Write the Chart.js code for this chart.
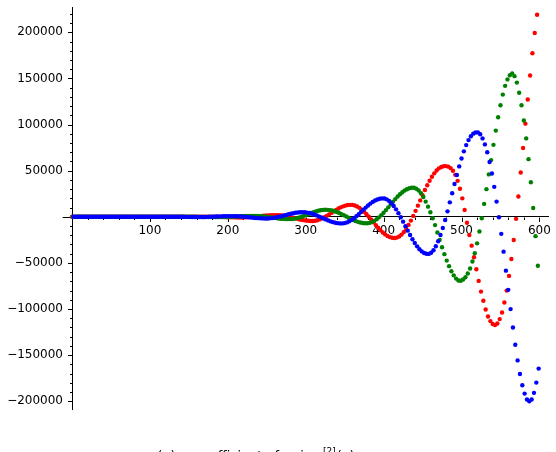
<!DOCTYPE html>
<html>
<head>
<meta charset="utf-8">
<script src="https://cdn.jsdelivr.net/npm/chart.js@4.4.0/dist/chart.umd.min.js"></script>
<style>
  html, body { margin: 0; padding: 0; background: #fff; }
  #wrap { width: 556px; height: 452px; }
</style>
</head>
<body>
<div id="wrap"><canvas id="chart" width="556" height="452"></canvas></div>
<script>
// one sequence split in three by n mod 3: red n=3k, green n=3k+1, blue n=3k+2
const xStep = 3;
const redFirstX = 0;
const greenFirstX = 1;
const blueFirstX = 2;

const redValues = [
  0, 0, 0, 0, 0, 0, 0, 0, 0, 0, 0, 0, 0, 0, 0, 0, 0, 0, 0, 0, 0, 0, 0, 0, 0,
  0, 0, 0, 0, 0, 0, 0, 0, 0, 0, 0, 0, 0, 0, 0, 0, 0, 0, 0, 0, 0, 0, 0, 0, 0,
  0, 50, 100, 150, 200, 230, 250,
  250, 230, 200, 140, 80, 0, -100, -190, -290, -380, -470, -550, -610, -660, -690, -700,
  -670, -600, -470, -300, -100, 130, 380, 640, 890, 1130, 1340, 1520, 1660, 1750, 1800,
  1770, 1620, 1340, 950, 470, -100, -710, -1350, -1990, -2600, -3170, -3650, -4040, -4320, -4470,
  -4480, -4230, -3670, -2830, -1740, -440, 1030, 2610, 4250, 5890, 7470, 8940, 10240, 11330, 12170, 12730, 12980,
  12890, 12300, 11220, 9690, 7730, 5420, 2810, -10, -2980, -6010, -9010, -11890, -14580, -16990, -19080, -20770, -22010, -22750,
  -23000, -22570, -21330, -19270, -16430, -12930, -8760, -4100, 1000, 6450, 12090, 17810, 23490, 29010, 34220, 39080, 43400, 47140, 50210, 52540, 54060, 54760,
  55000, 54400, 52800, 50000, 45500, 39000, 30500, 20000, 7500,
  -6500, -19800, -31300, -43900, -56900, -69500, -81100, -91100, -100500, -108100, -113100, -116300, -117400, -115700, -110900, -103800,
  -93000, -80000, -64100, -45700, -25200, -2200, 22000, 48000, 74600, 101000, 127200, 153200, 177300, 199300, 219100
];

const greenValues = [
  0, 0, 0, 0, 0, 0, 0, 0, 0, 0, 0, 0, 0, 0, 0, 0, 0, 0, 0, 0, 0, 0, 0, 0, 0, 0, 0,
  0, 0, 0, 0, 0, 0, 0, 0, 0, 0, 0, 0, 0, 0, 0, 0, 0, 0, 0, 0, 0, 0, 0, 0, 0, 0, 0,
  -100, -150, -200, -250, -290, -320, -340, -350, -350,
  -340, -310, -250, -160, -50, 70, 210, 350, 490, 620, 740, 840, 920, 970, 1000,
  980, 900, 740, 530, 260, -50, -400, -750, -1100, -1450, -1760, -2030, -2250, -2400, -2480,
  -2490, -2320, -1960, -1410, -710, 130, 1060, 2050, 3060, 4050, 4970, 5810, 6510, 7060, 7420, 7590,
  7550, 7270, 6760, 6050, 5140, 4080, 2890, 1610, 300, -1010, -2290, -3480, -4540, -5450, -6160, -6670, -6950,
  -6970, -6580, -5730, -4410, -2700, -610, 1780, 4450, 7300, 10270, 13300, 16310, 19210, 21950, 24440, 26640, 28490, 29940, 30940, 31500,
  31500, 30500, 28500, 25500, 21500, 16500, 11000, 5000, -1500, -9000, -17000, -25000, -33000, -40500, -47500, -53500, -59000, -63500, -67000, -69000,
  -69300, -68000, -65500, -61500, -56000, -48500, -39500, -28800, -16000, -1500, 14000, 30000, 46000, 61500, 78000, 93500, 108000,
  121000, 132500, 142000, 149000, 153500, 155500, 152500, 145500, 134500, 121000, 104500, 85000, 62500, 37500, 9500, -21000, -53000
];

const blueValues = [
  0, 0, 0, 0, 0, 0, 0, 0, 0, 0, 0, 0, 0, 0, 0, 0, 0, 0, 0, 0, 0, 0, 0, 0,
  0, 0, 0, 0, 0, 0, 0, 0, 0, 0, 0, 0, 0, 0, 0, 0, 0, 0, 0, 0, 0, 0, 0, 0,
  -50, -100, -160, -210, -240,
  -250, -230, -200, -140, -80, 0, 100, 190, 290, 380, 470, 550, 610, 660, 690,
  700, 670, 590, 450, 270, 50, -200, -460, -730, -990, -1230, -1430, -1600, -1720, -1790,
  -1790, -1670, -1420, -1040, -550, 40, 680, 1370, 2060, 2740, 3360, 3920, 4380, 4720, 4930,
  5000, 4890, 4570, 4050, 3350, 2490, 1500, 420, -720, -1860, -2990, -4040, -4990, -5800, -6440, -6900, -7150,
  -7170, -6820, -6040, -4870, -3370, -1530, 550, 2820, 5190, 7610, 9980, 12260, 14330, 16170, 17670, 18840, 19620, 19970,
  19820, 18920, 17230, 14810, 11740, 8090, 3990, -500, -5270, -10150, -15030, -19800, -24290, -28390, -32040, -35110, -37530, -39220, -40120,
  -40210, -38980, -36210, -32000, -26530, -19800, -12100, -3460, 5900, 15650, 25600, 35550, 45300, 54660, 63300, 71000, 77730, 83200, 87410, 90180, 91410,
  91500, 89500, 85000, 78500, 70000, 59500, 47000, 32500, 16500, -500, -18500, -37800, -58400, -79200,
  -100100, -120000, -138700, -155700, -170400, -182700, -191700, -198100, -200000, -198100, -190900, -179800, -164600
];

const xTickValues = [100, 200, 300, 400, 500, 600];
const yTickValues = [-200000, -150000, -100000, -50000, 50000, 100000, 150000, 200000];
const xMinorStep = 20;
const yMinorStep = 10000;

const xMin = 0, xMax = 611, xAxisStart = -12;
const yMin = -208400, yMax = 227500;

const captionMain = 'a(n) = coefficient of x\u207F in s';
const captionSup = '[2]';
const captionTail = '(x)';

function toPoints(firstX, values) {
  return values.map((v, i) => ({ x: firstX + i * xStep, y: v }));
}

function fmt(v) {
  return (v < 0 ? '\u2212' : '') + Math.abs(v);
}

// small ticks, the bit of x axis left of the y axis, and the cut-off caption
const axisDecor = {
  id: 'axisDecor',
  beforeDatasetsDraw(chart) {
    const { ctx, scales: { x, y } } = chart;
    const x0 = Math.round(x.getPixelForValue(0)) + 0.5;
    const y0 = Math.round(y.getPixelForValue(0)) + 0.5;
    ctx.save();
    ctx.strokeStyle = '#000';
    ctx.lineWidth = 1;
    ctx.beginPath();
    ctx.moveTo(x.getPixelForValue(xAxisStart), y0);
    ctx.lineTo(x0, y0);
    for (let v = yMinorStep * Math.ceil(yMin / yMinorStep); v <= yMax; v += yMinorStep) {
      const len = v % 50000 === 0 ? 4.5 : 2.5;
      const py = Math.round(y.getPixelForValue(v)) + 0.5;
      ctx.moveTo(x0, py);
      ctx.lineTo(x0 - len, py);
    }
    for (let v = xMinorStep; v <= xMax; v += xMinorStep) {
      const len = v % 100 === 0 ? 4.5 : 2.5;
      const px = Math.round(x.getPixelForValue(v)) + 0.5;
      ctx.moveTo(px, y0);
      ctx.lineTo(px, y0 + len);
    }
    ctx.stroke();
    ctx.restore();
  },
  afterDraw(chart) {
    const { ctx } = chart;
    ctx.save();
    ctx.fillStyle = '#000';
    ctx.textBaseline = 'alphabetic';
    ctx.font = '13px "DejaVu Sans"';
    const w = ctx.measureText(captionMain).width;
    const supX = 323;
    ctx.fillText(captionMain, supX - w, 460);
    ctx.font = '9px "DejaVu Sans"';
    ctx.fillText(captionSup, supX, 454);
    const ws = ctx.measureText(captionSup).width;
    ctx.font = '13px "DejaVu Sans"';
    ctx.fillText(captionTail, supX + ws + 1, 460);
    ctx.restore();
  }
};

const tickFont = { family: 'DejaVu Sans', size: 12 };

new Chart(document.getElementById('chart'), {
  type: 'scatter',
  data: {
    datasets: [
      { label: 'blue', data: toPoints(blueFirstX, blueValues), backgroundColor: '#0000ff' },
      { label: 'green', data: toPoints(greenFirstX, greenValues), backgroundColor: '#008000' },
      { label: 'red', data: toPoints(redFirstX, redValues), backgroundColor: '#ff0000' }
    ]
  },
  options: {
    responsive: false,
    animation: false,
    devicePixelRatio: 1,
    clip: false,
    layout: { padding: { top: 7, right: 8, bottom: 43, left: 0 } },
    elements: { point: { radius: 2.2, hoverRadius: 2.2, borderWidth: 0 } },
    plugins: { legend: { display: false }, tooltip: { enabled: false } },
    scales: {
      x: {
        type: 'linear',
        min: xMin,
        max: xMax,
        position: { y: 0 },
        grid: { display: false, drawTicks: false },
        border: { display: true, color: '#000', width: 1 },
        afterBuildTicks: s => { s.ticks = xTickValues.map(v => ({ value: v })); },
        afterFit: s => { s.paddingLeft = 0; s.paddingRight = 0; s.paddingTop = 0; s.paddingBottom = 0; },
        ticks: { font: tickFont, color: '#000', padding: 7, maxRotation: 0, autoSkip: false, callback: v => fmt(v) }
      },
      y: {
        type: 'linear',
        min: yMin,
        max: yMax,
        position: 'left',
        afterFit: s => { s.width = 72; s.paddingLeft = 0; s.paddingRight = 0; s.paddingTop = 0; s.paddingBottom = 0; },
        grid: { display: false, drawTicks: false },
        border: { display: true, color: '#000', width: 1 },
        afterBuildTicks: s => { s.ticks = yTickValues.map(v => ({ value: v })); },
        ticks: { font: tickFont, color: '#000', padding: 9, autoSkip: false, callback: v => fmt(v) }
      }
    }
  },
  plugins: [axisDecor]
});
</script>
</body>
</html>
